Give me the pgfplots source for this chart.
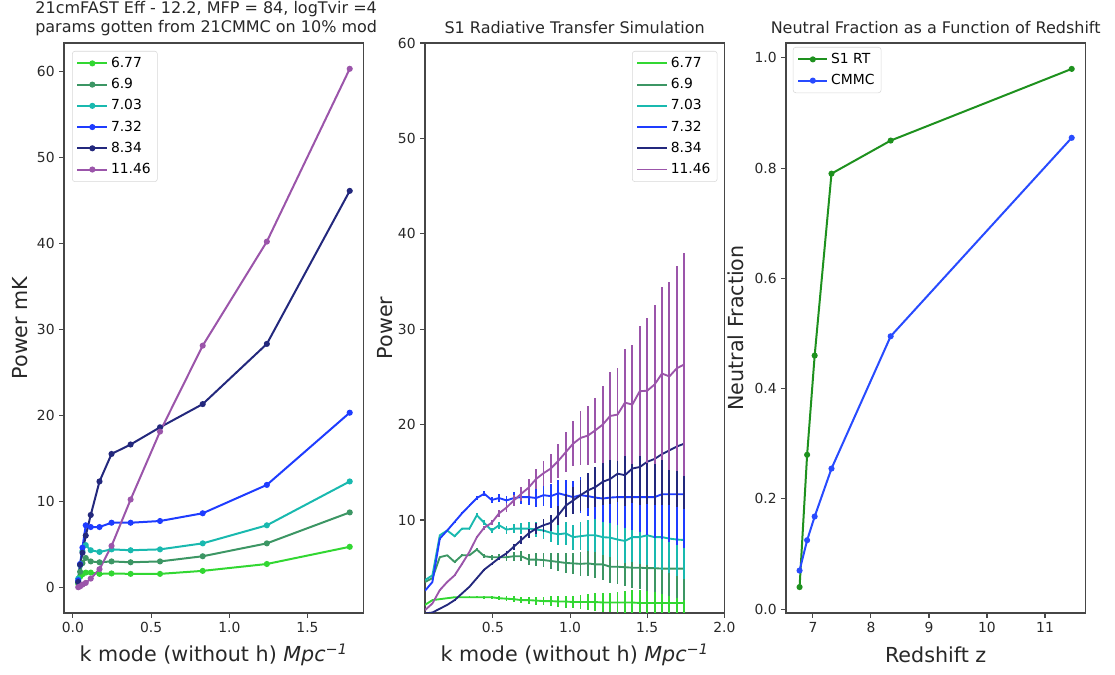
\documentclass[border=0pt]{standalone}
\usepackage{fontspec}
\setmainfont{DejaVu Sans}
\usepackage{pgfplots}
\usepackage{pgfplotstable}
\pgfplotsset{compat=1.18}

\definecolor{cA}{RGB}{50,215,50}
\definecolor{cB}{RGB}{60,150,100}
\definecolor{cC}{RGB}{25,185,175}
\definecolor{cD}{RGB}{30,60,255}
\definecolor{cE}{RGB}{35,40,125}
\definecolor{cF}{RGB}{155,85,170}
\definecolor{rtgreen}{RGB}{30,145,30}
\definecolor{cmmcblue}{RGB}{40,75,255}
\definecolor{axgray}{RGB}{70,70,70}
\definecolor{labgray}{RGB}{40,40,40}
\definecolor{legcol}{RGB}{215,215,215}

\pgfplotstableread{
k g sg t b n p
0.034 0.4 0.6 1.0 0.8 0.6 0.0
0.046 1.2 1.8 2.6 2.7 2.6 0.1
0.061 1.5 2.8 4.2 4.6 4.0 0.3
0.082 1.7 3.4 4.9 7.2 6.0 0.5
0.114 1.7 3.0 4.3 7.0 8.4 1.0
0.170 1.55 2.9 4.1 7.0 12.3 2.1
0.247 1.6 3.0 4.4 7.5 15.5 4.8
0.369 1.55 2.9 4.3 7.5 16.6 10.2
0.557 1.55 3.0 4.4 7.7 18.6 18.1
0.830 1.9 3.6 5.1 8.6 21.3 28.1
1.240 2.7 5.1 7.2 11.9 28.3 40.2
1.770 4.7 8.7 12.3 20.3 46.1 60.3
}\leftdata

\pgfplotstableread{
k g ge sg sge t te b be n ne p pe
0.060 1.1 0.00 3.5 0.00 3.7 0.00 2.58 0.00 0.2 0.00 0.55 0.00
0.108 1.6 0.01 3.9 0.01 4.2 0.00 3.5 0.00 0.3 0.00 1.25 0.00
0.156 1.7 0.01 6.1 0.02 8.4 0.02 8.05 0.02 0.7 0.00 2.65 0.01
0.204 1.8 0.03 6.3 0.04 8.9 0.04 8.9 0.04 1.1 0.00 3.5 0.01
0.252 1.9 0.04 5.6 0.05 8.3 0.06 9.8 0.06 1.6 0.01 4.2 0.03
0.300 1.9 0.06 6.3 0.09 9.1 0.10 10.7 0.10 2.3 0.02 5.4 0.05
0.348 1.9 0.09 6.3 0.12 9.1 0.14 11.5 0.15 3.0 0.03 6.65 0.09
0.396 1.9 0.11 6.9 0.18 10.5 0.21 12.3 0.21 3.9 0.06 8.2 0.14
0.444 1.9 0.15 6.2 0.20 9.7 0.25 12.75 0.28 4.8 0.09 9.2 0.20
0.492 1.9 0.18 6.1 0.25 8.9 0.28 12.1 0.33 5.4 0.13 9.7 0.27
0.540 1.8 0.21 6.1 0.31 9.45 0.37 12.3 0.42 6.0 0.17 10.7 0.36
0.588 1.75 0.25 6.1 0.37 9.0 0.42 12.05 0.49 6.5 0.23 11.3 0.46
0.636 1.7 0.29 6.2 0.45 9.1 0.51 12.3 0.60 7.2 0.30 12.05 0.59
0.684 1.6 0.32 6.2 0.53 9.1 0.60 12.4 0.71 7.9 0.38 12.75 0.73
0.732 1.6 0.37 5.85 0.58 9.1 0.69 12.4 0.82 8.6 0.48 13.4 0.89
0.780 1.55 0.41 5.85 0.67 9.0 0.79 12.3 0.94 9.1 0.59 14.3 1.09
0.828 1.5 0.46 5.8 0.76 8.9 0.89 12.6 1.09 9.45 0.70 14.9 1.29
0.876 1.5 0.52 5.7 0.84 8.65 0.98 12.5 1.23 9.7 0.81 15.4 1.51
0.924 1.45 0.56 5.6 0.93 8.5 1.08 12.8 1.41 10.5 0.99 16.2 1.79
0.972 1.45 0.63 5.5 1.02 8.6 1.22 12.6 1.56 11.5 1.21 17.1 2.11
1.020 1.4 0.67 5.45 1.12 8.2 1.30 12.4 1.70 12.05 1.41 18.0 2.35
1.068 1.4 0.74 5.4 1.23 8.3 1.45 12.6 1.92 12.6 1.63 18.6 2.80
1.116 1.4 0.82 5.45 1.37 8.4 1.62 12.5 2.09 13.1 1.87 18.85 3.05
1.164 1.4 0.90 5.35 1.48 8.4 1.78 12.35 2.27 13.45 2.10 19.4 3.40
1.212 1.35 0.95 5.35 1.61 8.2 1.89 12.25 2.46 14.0 2.39 20.0 4.00
1.260 1.35 1.03 5.1 1.67 8.15 2.05 12.35 2.70 14.3 2.66 20.9 4.60
1.308 1.35 1.12 5.1 1.82 7.95 2.17 12.4 2.95 14.85 3.00 21.05 4.85
1.356 1.35 1.21 5.05 1.95 7.8 2.31 12.4 3.19 14.7 3.21 22.3 5.60
1.404 1.35 1.31 5.0 2.08 8.2 2.62 12.4 3.44 15.4 3.63 22.1 6.20
1.452 1.3 1.36 5.0 2.24 8.2 2.82 12.4 3.71 15.55 3.95 23.5 6.80
1.500 1.3 1.46 4.95 2.38 8.4 3.10 12.4 3.98 16.1 4.39 23.55 7.60
1.548 1.3 1.57 4.95 2.55 8.2 3.24 12.4 4.27 16.4 4.80 24.2 8.30
1.596 1.3 1.67 4.9 2.70 8.2 3.47 12.7 4.67 16.9 5.29 25.35 9.05
1.644 1.3 1.79 4.9 2.89 8.05 3.64 12.7 4.99 17.3 5.77 25.05 9.85
1.692 1.3 1.90 4.9 3.08 7.95 3.83 12.7 5.31 17.7 6.29 25.9 10.75
1.740 1.3 2.02 4.9 3.27 7.9 4.04 12.7 5.65 18.0 6.81 26.3 11.70
}\middata

\pgfplotstableread{
z rt cmmc
6.77 0.04 0.07
6.90 0.28 0.125
7.03 0.46 0.168
7.32 0.79 0.255
8.34 0.85 0.495
11.46 0.98 0.855
}\rightdata

\begin{document}
\begin{tikzpicture}
\pgfplotsset{
  every axis/.append style={
    scale only axis, width=224.5pt, height=427.5pt,
    axis line style={draw=axgray, line width=0.8pt},
    every tick/.style={draw=axgray, line width=0.8pt},
    tick align=outside, major tick length=3.5pt,
    xtick pos=bottom, ytick pos=left,
    tick label style={font=\fontsize{10.4}{12}\selectfont, text=labgray},
    /pgf/number format/assume math mode=true,
    label style={font=\fontsize{15.5}{18}\selectfont, text=labgray},
    title style={font=\fontsize{12}{14.3}\selectfont, text=labgray, align=center, yshift=-2.5pt},
    legend cell align=left,
    legend style={draw=legcol, rounded corners=2pt, fill=white, fill opacity=0.85, text opacity=1,
      font=\fontsize{10.4}{12}\selectfont, row sep=2.7pt, inner xsep=3pt, inner ysep=2.5pt},
  },
  every axis y label/.style={rotate=90, anchor=center},
  every axis x label/.style={anchor=center},
}
% ---------------- left ----------------
\begin{axis}[
  at={(0pt,0pt)},
  xmin=-0.057, xmax=1.857, ymin=-3.0, ymax=63.3,
  xtick={0,0.5,1,1.5}, ytick={0,10,20,30,40,50,60},
  xticklabel style={/pgf/number format/.cd, fixed, fixed zerofill, precision=1},
  title={21cmFAST Eff - 12.2, MFP = 84, logTvir =4\\params gotten from 21CMMC on 10\% mod},
  title style={at={(axis description cs:0.475,1)}, anchor=south, yshift=-1.5pt},
  xlabel={k mode (without h) {\itshape Mpc}\textsuperscript{\itshape −1}},
  ylabel={Power mK},
  xlabel style={at={(axis description cs:0.5,-0.074)}},
  ylabel style={at={(axis description cs:-0.147,0.5)}},
  legend style={at={(axis description cs:0.027,0.986)}, anchor=north west},
  legend image code/.code={\draw[line width=1.5pt, mark repeat=2,mark phase=2] plot coordinates {(0pt,0pt) (11.25pt,0pt) (22.5pt,0pt)};},
  every axis plot/.append style={line width=1.5pt, mark=*, mark size=1.5pt},
]
\addplot[color=cA] table[x=k,y=g]{\leftdata};
\addlegendentry{6.77}
\addplot[color=cB] table[x=k,y=sg]{\leftdata};
\addlegendentry{6.9}
\addplot[color=cC] table[x=k,y=t]{\leftdata};
\addlegendentry{7.03}
\addplot[color=cD] table[x=k,y=b]{\leftdata};
\addlegendentry{7.32}
\addplot[color=cE] table[x=k,y=n]{\leftdata};
\addlegendentry{8.34}
\addplot[color=cF] table[x=k,y=p]{\leftdata};
\addlegendentry{11.46}
\end{axis}
% ---------------- middle ----------------
\begin{axis}[
  at={(270.75pt,0pt)},
  xmin=0.06, xmax=2.0, ymin=0.25, ymax=60,
  xtick={0.5,1,1.5,2}, ytick={10,20,30,40,50,60},
  xticklabel style={/pgf/number format/.cd, fixed, fixed zerofill, precision=1},
  title={S1 Radiative Transfer Simulation},
  xlabel={k mode (without h) {\itshape Mpc}\textsuperscript{\itshape −1}},
  ylabel={Power},
  xlabel style={at={(axis description cs:0.5,-0.074)}},
  ylabel style={at={(axis description cs:-0.133,0.5)}},
  legend style={at={(axis description cs:0.977,0.986)}, anchor=north east},
  legend image code/.code={\draw[line width=1.4pt] plot coordinates {(0pt,0pt) (22.5pt,0pt)};},
  every axis plot/.append style={line width=1.4pt, no marks},
  error bars/error bar style={line width=1.4pt},
]
\addplot[color=cA, error bars/.cd, y dir=both, y explicit, error mark=none] table[x=k,y=g,y error=ge]{\middata};
\addlegendentry{6.77}
\addplot[color=cB, error bars/.cd, y dir=both, y explicit, error mark=none] table[x=k,y=sg,y error=sge]{\middata};
\addlegendentry{6.9}
\addplot[color=cC, error bars/.cd, y dir=both, y explicit, error mark=none] table[x=k,y=t,y error=te]{\middata};
\addlegendentry{7.03}
\addplot[color=cD, error bars/.cd, y dir=both, y explicit, error mark=none] table[x=k,y=b,y error=be]{\middata};
\addlegendentry{7.32}
\addplot[color=cE, error bars/.cd, y dir=both, y explicit, error mark=none] table[x=k,y=n,y error=ne]{\middata};
\addlegendentry{8.34}
\addplot[color=cF, error bars/.cd, y dir=both, y explicit, error mark=none] table[x=k,y=p,y error=pe]{\middata};
\addlegendentry{11.46}
\end{axis}
% ---------------- right ----------------
\begin{axis}[
  at={(541.5pt,0pt)},
  xmin=6.536, xmax=11.695, ymin=-0.007, ymax=1.027,
  xtick={7,8,9,10,11}, ytick={0,0.2,0.4,0.6,0.8,1.0},
  yticklabel style={/pgf/number format/.cd, fixed, fixed zerofill, precision=1},
  title={Neutral Fraction as a Function of Redshift},
  xlabel={Redshift z},
  ylabel={Neutral Fraction},
  xlabel style={at={(axis description cs:0.5,-0.074)}},
  ylabel style={at={(axis description cs:-0.169,0.5)}},
  legend style={at={(axis description cs:0.023,0.993)}, anchor=north west},
  legend image code/.code={\draw[line width=1.5pt, mark repeat=2,mark phase=2] plot coordinates {(0pt,0pt) (11pt,0pt) (22pt,0pt)};},
  every axis plot/.append style={line width=1.5pt, mark=*, mark size=1.5pt},
]
\addplot[color=rtgreen] table[x=z,y=rt]{\rightdata};
\addlegendentry{S1 RT}
\addplot[color=cmmcblue] table[x=z,y=cmmc]{\rightdata};
\addlegendentry{CMMC}
\end{axis}
\pgfresetboundingbox
\path[use as bounding box] (-48pt,-46.5pt) rectangle (788.25pt,459.75pt);
\end{tikzpicture}
\end{document}
